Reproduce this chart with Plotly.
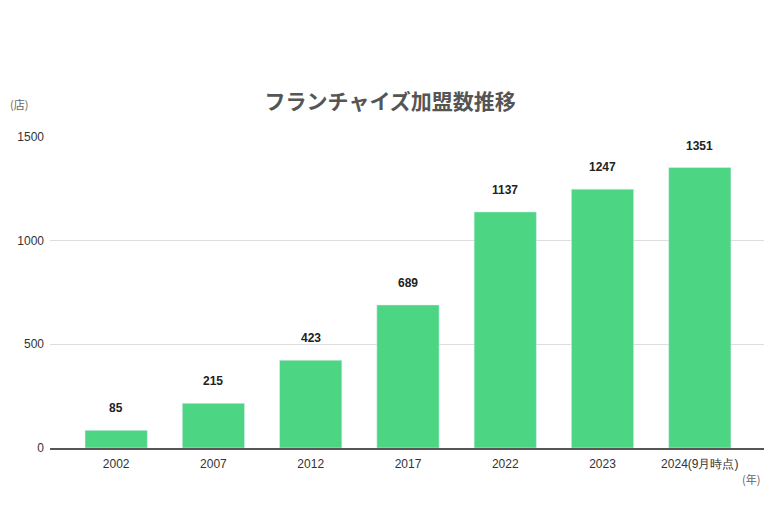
import plotly.graph_objects as go

# フランチャイズ加盟数の推移
years = ["2002", "2007", "2012", "2017", "2022", "2023", "2024(9月時点)"]
counts = [85, 215, 423, 689, 1137, 1247, 1351]
y_ticks = [0, 500, 1000, 1500]

font_jp = "Noto Sans CJK JP"
font_num = "Liberation Sans, Arial, sans-serif"

fig = go.Figure(
    go.Bar(
        x=years,
        y=counts,
        marker_color="#4cd583",
        hoverinfo="x+y",
    )
)

# 値ラベル（棒の上に少し離して表示）
# カテゴリ名が数字なので x は位置番号で指定する
labels = [
    dict(x=i, y=v, xref="x", yref="y", text=f"<b>{v}</b>", showarrow=False,
         yanchor="bottom", yshift=13,
         font=dict(size=12, color="#222222", family=font_num))
    for i, v in enumerate(counts)
]

fig.update_layout(
    width=780,
    height=522,
    plot_bgcolor="white",
    paper_bgcolor="white",
    margin=dict(l=42, r=24, t=128, b=82, autoexpand=False),
    bargap=0.36,
    showlegend=False,
    font=dict(family=font_jp, color="#444444"),
    title=dict(
        text="<b>フランチャイズ加盟数推移</b>",
        x=0.49,
        xanchor="center",
        y=0.82,
        yanchor="middle",
        font=dict(size=21, color="#555555", family=font_jp),
    ),
    xaxis=dict(
        type="category",
        range=[-0.68, 6.66],
        showgrid=False,
        showline=True,
        linecolor="#555555",
        linewidth=1.5,
        ticks="",
        ticklabelstandoff=4,
        tickfont=dict(size=12, color="#333333", family=font_num),
    ),
    yaxis=dict(
        range=[0, 1503],
        tickvals=y_ticks,
        showgrid=True,
        gridcolor="#dddddd",
        gridwidth=1,
        zeroline=False,
        ticks="",
        tickfont=dict(size=12, color="#333333", family=font_num),
        ticklabelstandoff=5,
    ),
    annotations=labels + [
        dict(text="(店)", x=0, xref="paper", xanchor="left", xshift=-42,
             y=1500, yref="y", yshift=33, showarrow=False,
             font=dict(size=11, color="#666666")),
        dict(text="(年)", x=1, xref="paper", xanchor="right", xshift=-2,
             y=0, yref="y", yshift=-31, showarrow=False,
             font=dict(size=11, color="#666666")),
    ],
)

fig.write_html("out.html")
